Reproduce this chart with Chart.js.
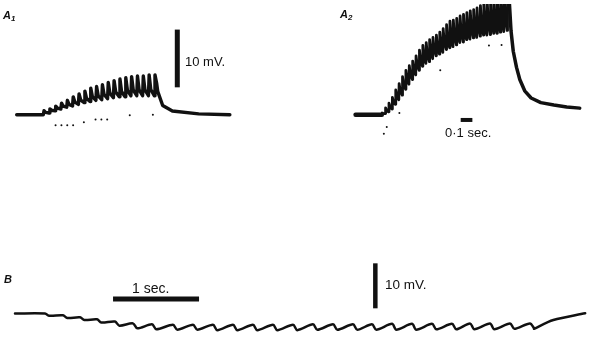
<!DOCTYPE html>
<html>
<head>
<meta charset="utf-8">
<script src="https://cdn.jsdelivr.net/npm/chart.js@4.4.1/dist/chart.umd.min.js"></script>
<style>
  html, body { margin: 0; padding: 0; background: #fff; }
  #fig { position: relative; width: 599px; height: 340px; overflow: hidden; }
  #fig canvas { position: absolute; }
  .txt { position: absolute; font-family: "Liberation Sans", Arial, sans-serif; color: #111; line-height: 1; white-space: nowrap; }
  .panel { font-style: italic; font-weight: bold; font-size: 11px; }
  .panel sub { font-size: 8px; vertical-align: -2px; }
</style>
</head>
<body>
<div id="fig">
  <canvas id="a1"></canvas>
  <canvas id="a2"></canvas>
  <canvas id="b"></canvas>
  <div class="txt panel" style="left:3px;top:10px">A<sub>1</sub></div>
  <div class="txt" style="left:185px;top:55px;font-size:13px">10 mV.</div>
  <div class="txt panel" style="left:340px;top:9px">A<sub>2</sub></div>
  <div class="txt" style="left:445px;top:126px;font-size:13px">0·1 sec.</div>
  <div class="txt panel" style="left:4px;top:274px">B</div>
  <div class="txt" style="left:132px;top:281px;font-size:14px">1 sec.</div>
  <div class="txt" style="left:385px;top:278px;font-size:13.5px">10 mV.</div>
</div>
<script>
// ------------------------------------------------------
// @Data  (time in sec, potential in mV from resting level)
// ------------------------------------------------------

// A1: train of ~20/sec
const a1Stim   = [0.02, 0.07, 0.12, 0.17, 0.22, 0.27, 0.32, 0.37, 0.42, 0.47,
                  0.52, 0.57, 0.62, 0.67, 0.72, 0.77, 0.82, 0.87, 0.92, 0.97];
const a1Peak   = [0.7, 1.0, 1.5, 2.0, 2.5, 3.1, 3.6, 4.1, 4.6, 4.9,
                  5.2, 5.6, 5.9, 6.2, 6.4, 6.6, 6.7, 6.7, 6.9, 6.9];
const a1Trough = [0.0, 0.3, 0.7, 1.0, 1.3, 1.5, 1.8, 2.1, 2.3, 2.5,
                  2.6, 2.8, 2.95, 3.1, 3.1, 3.3, 3.3, 3.3, 3.3, 3.3];
const a1TailT  = [0.99, 1.0, 1.042, 1.125, 1.35, 1.617];
const a1TailV  = [5.5, 4.0, 1.6, 0.65, 0.15, 0.0];
const a1DotT   = [0.125, 0.175, 0.225, 0.275, 0.367, 0.467, 0.517, 0.567, 0.76, 0.958];
const a1DotV   = [-1.8, -1.8, -1.8, -1.8, -1.3, -0.8, -0.8, -0.8, -0.1, 0.0];

// A2: train of ~35/sec
const a2Stim   = [0, 0.029, 0.058, 0.087, 0.116, 0.145, 0.174, 0.203, 0.232, 0.261,
                  0.29, 0.319, 0.348, 0.377, 0.406, 0.435, 0.464, 0.493, 0.522, 0.551,
                  0.58, 0.609, 0.638, 0.667, 0.696, 0.725, 0.754, 0.783, 0.812, 0.841,
                  0.87, 0.899, 0.928, 0.957, 0.986, 1.015, 1.044, 1.073];
const a2Peak   = [0.3, 1.2, 2.0, 3.0, 4.3, 5.4, 6.6, 7.7, 8.5, 9.3,
                  10.2, 11.2, 12.0, 12.5, 13.0, 13.4, 13.8, 14.3, 14.9, 15.6,
                  16.2, 16.4, 16.7, 17.1, 17.4, 17.7, 18.0, 18.2, 18.5, 18.9,
                  19.4, 19.7, 20.0, 20.2, 20.4, 20.5, 20.6, 20.8];
const a2Trough = [0.0, 0.2, 0.5, 1.0, 1.8, 2.6, 3.4, 4.4, 5.3, 6.1,
                  6.9, 7.7, 8.4, 8.9, 9.2, 9.7, 10.2, 10.5, 10.8, 11.3,
                  11.6, 11.8, 12.1, 12.5, 12.6, 13.0, 13.1, 13.3, 13.4, 13.6,
                  13.8, 13.8, 13.9, 14.1, 14.1, 14.3, 14.4, 14.6];
const a2TailT  = [1.09, 1.106, 1.125, 1.153, 1.181, 1.223, 1.278, 1.361, 1.473, 1.583, 1.694];
const a2TailV  = [20.0, 14.5, 11.0, 8.2, 6.1, 4.15, 2.9, 2.1, 1.7, 1.36, 1.15];
const a2DotT   = [0.017, 0.042, 0.15, 0.5, 0.917, 1.025];
const a2DotV   = [-3.3, -2.1, 0.3, 7.7, 12.0, 12.1];

// B: slow train, hyperpolarizing steps
const bStim   = [0.349, 0.558, 0.756, 0.953, 1.163, 1.372, 1.593, 1.837, 2.07, 2.302,
                 2.535, 2.767, 3.0, 3.233, 3.465, 3.698, 3.93, 4.151, 4.384, 4.616,
                 4.849, 5.081, 5.291, 5.523, 5.756, 5.988];
const bTop    = [0.0, -0.4, -0.85, -1.3, -1.8, -2.2, -2.4, -2.5, -2.5, -2.5,
                 -2.5, -2.5, -2.5, -2.5, -2.4, -2.4, -2.4, -2.4, -2.3, -2.3,
                 -2.3, -2.3, -2.2, -2.2, -2.2, -2.2];
const bBottom = [-0.5, -1.0, -1.45, -2.0, -2.7, -3.3, -3.5, -3.6, -3.6, -3.7,
                 -3.7, -3.7, -3.7, -3.7, -3.6, -3.6, -3.6, -3.6, -3.6, -3.6,
                 -3.5, -3.5, -3.5, -3.5, -3.4, -3.4];
const bTailT  = [6.035, 6.26, 6.63];
const bTailV  = [-3.4, -1.45, 0.05];

// calibration bars [t, mV] -> [t, mV]
const a1VoltBar = [[1.167, 4.75], [1.167, 14.75]];
const a2TimeBar = [[0.675, -0.9], [0.775, -0.9]];
const bTimeBar  = [[1.14, 3.2], [2.14, 3.2]];
const bVoltBar  = [[4.19, 1.15], [4.19, 11.15]];

// ------------------------------------------------------
// @Frames (pixel layout of each record)
// ------------------------------------------------------

const FRAMES = {
  a1: { box: [0, 0, 300, 150],   x0: 38, sx: 120, y0: 117,   sy: 6.1 },
  a2: { box: [300, 0, 299, 150], x0: 80, sx: 120, y0: 117,   sy: 6.1 },
  b:  { box: [0, 200, 599, 140], x0: 15, sx: 86,  y0: 113.5, sy: 4.5 },
};

const INK = '#111';

function pts(ts, vs) {
  return ts.map((t, i) => ({ x: t, y: vs[i] }));
}

// fast rise to each peak, quick partial fall, then slow decay to next trough
function train(start, times, peaks, troughs, tail, rise, mid, frac) {
  const out = [start];
  times.forEach((t, i) => {
    out.push({ x: t, y: troughs[i] });
    out.push({ x: t + rise, y: peaks[i] });
    if (i < times.length - 1) {
      out.push({ x: t + mid, y: troughs[i + 1] + frac * (peaks[i] - troughs[i + 1]) });
    }
  });
  return out.concat(tail);
}

function ipsps(times, tops, bottoms, tail) {
  const out = [{ x: 0, y: 0 }];
  times.forEach((t, i) => {
    out.push({ x: t, y: tops[i] });
    out.push({ x: t + 0.05, y: bottoms[i] });
  });
  return out.concat(tail);
}

function line(data, width, cap, tension) {
  return {
    data, showLine: true, borderColor: INK, borderWidth: width,
    pointRadius: 0, fill: false, tension: tension || 0,
    borderJoinStyle: 'round', borderCapStyle: cap || 'round',
  };
}

function dots(data) {
  return { data, showLine: false, pointRadius: 1, backgroundColor: INK, borderWidth: 0 };
}

function bar(pair, width) {
  return line(pair.map(p => ({ x: p[0], y: p[1] })), width, 'butt');
}

function makeChart(id, f, datasets) {
  const [left, top, w, h] = f.box;
  const cv = document.getElementById(id);
  cv.width = w;
  cv.height = h;
  cv.style.left = left + 'px';
  cv.style.top = top + 'px';

  new Chart(cv.getContext('2d'), {
    type: 'scatter',
    data: { datasets },
    options: {
      responsive: false,
      animation: false,
      devicePixelRatio: 1,
      events: [],
      layout: { padding: 0 },
      plugins: { legend: { display: false }, tooltip: { enabled: false } },
      scales: {
        x: { type: 'linear', display: false, min: -f.x0 / f.sx, max: (w - f.x0) / f.sx },
        y: { type: 'linear', display: false, min: -(h - f.y0) / f.sy, max: f.y0 / f.sy },
      },
    },
  });
}

// ------------------------------------------------------
// @A1
// ------------------------------------------------------

makeChart('a1', FRAMES.a1, [
  line(train({ x: -0.208, y: 0 }, a1Stim, a1Peak, a1Trough, pts(a1TailT, a1TailV), 0.006, 0.02, 0.3), 3.4),
  dots(pts(a1DotT, a1DotV)),
  bar(a1VoltBar, 5),
]);

// ------------------------------------------------------
// @A2
// ------------------------------------------------------

makeChart('a2', FRAMES.a2, [
  line([{ x: -0.225, y: 0 }, { x: 0, y: 0 }], 4.5),
  line(train({ x: 0, y: 0 }, a2Stim, a2Peak, a2Trough, [], 0.003, 0.012, 0.4), 2.8),
  line([{ x: 1.076, y: 20.8 }].concat(pts(a2TailT, a2TailV)), 3.5),
  dots(pts(a2DotT, a2DotV)),
  bar(a2TimeBar, 4),
]);

// ------------------------------------------------------
// @B
// ------------------------------------------------------

makeChart('b', FRAMES.b, [
  line(ipsps(bStim, bTop, bBottom, pts(bTailT, bTailV)), 2.5, 'round', 0.3),
  bar(bTimeBar, 5),
  bar(bVoltBar, 4.5),
]);
</script>
</body>
</html>
